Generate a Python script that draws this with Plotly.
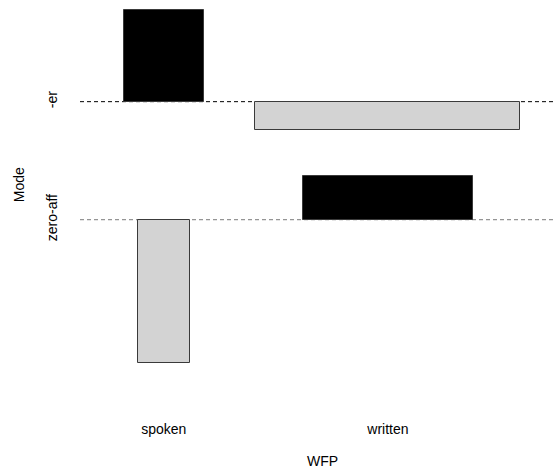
import plotly.graph_objects as go
import numpy as np

# ---- data ----
wfp = ["spoken", "written"]            # columns (x)
modes = ["-er", "zero-aff"]            # rows (y), top to bottom
# Pearson residuals (relative units) per mode, in wfp order
resid_er = [4.585, -1.40]
resid_zero = [-7.165, 2.20]
# sqrt(expected) -> bar widths (relative units) per mode, in wfp order
sqrtexp_er = [4.00, 13.25]
sqrtexp_zero = [2.575, 8.53]

space = 0.3
resid = np.array([resid_er, resid_zero])      # rows = modes
widths = np.array([sqrtexp_er, sqrtexp_zero])

# ---- assocplot layout (as in R's assocplot) ----
x_w = widths.max(axis=0)
x_delta = x_w.mean() * space
x_r = np.cumsum(x_w + x_delta)
x_m = (np.concatenate([[0], x_r[:-1]]) + x_r) / 2
xlim = (0, x_r[-1])

# rows stacked from bottom: zero-aff at bottom, -er on top
order = [1, 0]
y_h = np.array([resid[i].max() - resid[i].min() for i in order])
y_delta = y_h.mean() * space
y_u = np.cumsum(y_h + y_delta)
y_m_bottom_up = y_u - np.array([max(resid[i].max(), 0) for i in order]) - y_delta / 2
baseline = {modes[i]: y_m_bottom_up[k] for k, i in enumerate(order)}
ylim = (0, y_u[-1])

xs, bases, ys, ws, cols = [], [], [], [], []
for r, m in enumerate(modes):
    for c in range(len(wfp)):
        xs.append(x_m[c])
        bases.append(baseline[m])
        ys.append(resid[r, c])
        ws.append(widths[r, c])
        cols.append("#000000" if resid[r, c] > 0 else "#D3D3D3")

fig = go.Figure()
fig.add_trace(go.Bar(
    x=xs, y=ys, base=bases, width=ws,
    marker=dict(color=cols, line=dict(color="#3a3a3a", width=1)),
    hoverinfo="skip", showlegend=False,
))

ux = (xlim[0] - 0.04 * (xlim[1] - xlim[0]), xlim[1] + 0.04 * (xlim[1] - xlim[0]))
uy = (ylim[0] - 0.04 * (ylim[1] - ylim[0]), ylim[1] + 0.04 * (ylim[1] - ylim[0]))
x_range = [ux[0], ux[0] + 0.979 * (ux[1] - ux[0])]
y_range = [uy[0], uy[0] + 0.928 * (uy[1] - uy[0])]

line_cols = {"-er": "#000000", "zero-aff": "#7a7a7a"}
for m in modes:
    fig.add_shape(type="line", xref="paper", yref="y", x0=0, x1=1,
                  y0=baseline[m], y1=baseline[m], layer="below",
                  line=dict(color=line_cols[m], width=1, dash="4px,3px"))

font = dict(family="Liberation Sans, Arial, sans-serif", size=14, color="#000000")

fig.update_xaxes(range=x_range, tickvals=list(x_m), ticktext=wfp,
                 showgrid=False, zeroline=False, showline=False, ticks="",
                 ticklabelstandoff=17, tickfont=font)
fig.update_yaxes(range=y_range, tickvals=[baseline[m] for m in modes], ticktext=modes,
                 tickangle=-90, showgrid=False, zeroline=False, showline=False, ticks="",
                 ticklabelstandoff=19, tickfont=font)

# axis titles (centered on the full plot region as in R)
fig.add_annotation(text="WFP", x=(ux[0] + ux[1]) / 2, xref="x", y=-0.148, yref="paper",
                   showarrow=False, font=font, xanchor="center", yanchor="middle")
fig.add_annotation(text="Mode", x=-0.127, xref="paper", y=(uy[0] + uy[1]) / 2 + 0.1,
                   yref="y", showarrow=False, font=font, textangle=-90,
                   xanchor="center", yanchor="middle")

fig.update_layout(
    width=554, height=472,
    margin=dict(l=80, r=0, t=2, b=70),
    plot_bgcolor="white", paper_bgcolor="white",
    barmode="overlay", bargap=0,
)
fig.write_html("out.html")
